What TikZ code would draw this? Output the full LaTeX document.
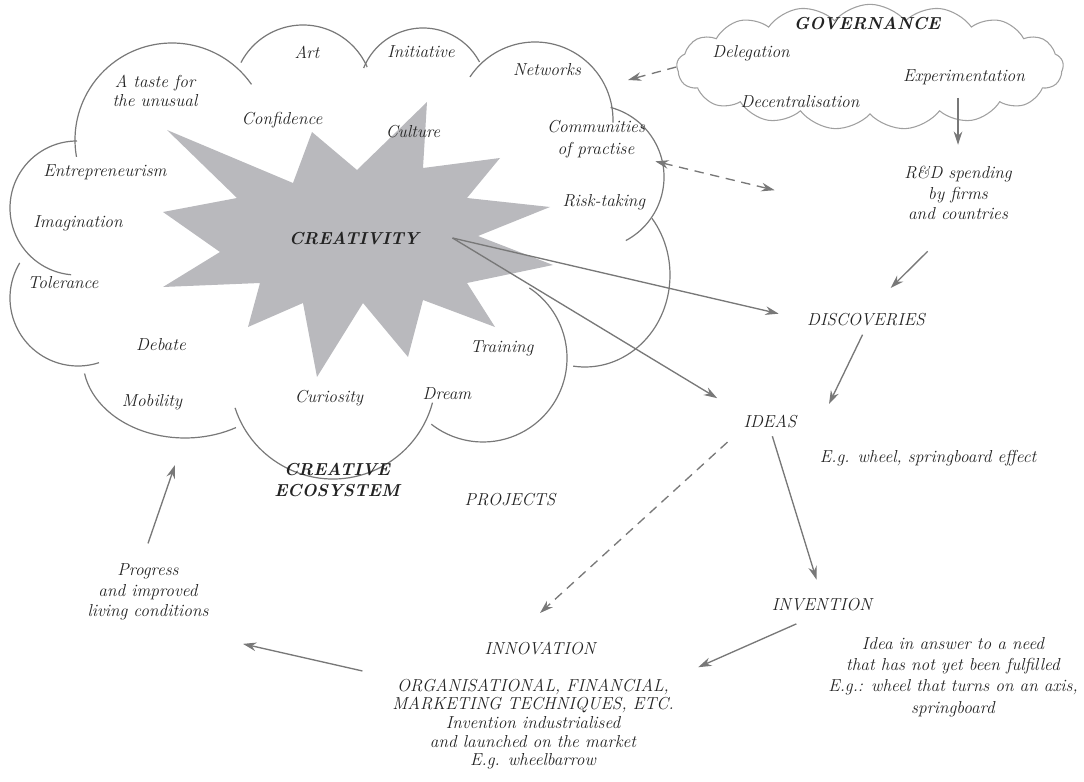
\documentclass[tikz,border=0pt]{standalone}
\usepackage{amsmath,amssymb,amsfonts}
\usetikzlibrary{arrows.meta,shapes.symbols}
\definecolor{lineg}{RGB}{120,120,120}
\definecolor{starg}{RGB}{185,185,189}
\definecolor{txtg}{RGB}{35,35,35}
\definecolor{govg}{RGB}{160,160,160}

\begin{document}
\begin{tikzpicture}[x=0.75pt,y=0.75pt,yscale=-1,xscale=1,
  lbl/.style={inner sep=0.75pt, text=txtg, align=center, font=\fontsize{13}{15.5}\selectfont\itshape},
  blbl/.style={lbl, font=\fontsize{13}{15.5}\selectfont\bfseries\itshape},
  lobe/.style={draw=lineg, line width=0.9pt},
  arr/.style={draw=lineg, line width=1pt, -{Stealth[length=10pt,width=6.5pt]}},
  dasharr/.style={arr, dash pattern=on 7pt off 5pt}]
\useasboundingbox (0,0) rectangle (1084,781);

%Shape: Star [creativity burst]
\fill [starg] (167,130) -- (293,183) -- (312,132) -- (357,170) -- (427,102) -- (423,168) -- (500,158) -- (467,198) -- (550,207) -- (478,236) -- (553,265) -- (467,283) -- (495,327) -- (423,300) -- (408,357) -- (363,303) -- (317,377) -- (303,303) -- (248,327) -- (260,283) -- (163,287) -- (220,252) -- (163,212) -- (237,198) -- cycle ;

%Shape: Arc [ecosystem cloud lobes]
\draw [lobe] (172,140) ++(170:97) arc [start angle=170, end angle=325, radius=97] ;
\draw [lobe] (303,95) ++(207.6:70) arc [start angle=207.6, end angle=336.5, radius=70] ;
\draw [lobe] (423,92) ++(202:64) arc [start angle=202, end angle=332, radius=64] ;
\draw [lobe] (535,120) ++(213.5:78) arc [start angle=213.5, end angle=362, radius=78] ;
\draw [lobe] (592,177) ++(-75:72) arc [start angle=-75, end angle=62, radius=72] ;
\draw [lobe] (585,275) ++(-38:85 and 92) arc [start angle=-38, end angle=98, x radius=85, y radius=92] ;
\draw [lobe] (483,358) ++(-56.5:84) arc [start angle=-56.5, end angle=128, radius=84] ;
\draw [lobe] (333,376) ++(162:103) arc [start angle=162, end angle=15, radius=103] ;
\draw [lobe] (185,360) ++(170:102 and 78) arc [start angle=170, end angle=60, x radius=102, y radius=78] ;
\draw [lobe] (78,298) ++(211:68) arc [start angle=211, end angle=72, radius=68] ;
\draw [lobe] (77,208) ++(270:67) arc [start angle=270, end angle=95, radius=67] ;

%Shape: Cloud [governance]
\node [cloud, cloud puffs=17, cloud puff arc=100, cloud ignores aspect, draw=govg, line width=0.8pt, minimum width=290pt, minimum height=94pt, inner sep=0pt] (gov) at (870,67) {};

% Text Node
\draw (155,91) node [lbl, font=\fontsize{13}{14}\selectfont\itshape] (taste) {A taste for\\the unusual};
% Text Node
\draw (307,52) node [lbl] (art) {Art};
% Text Node
\draw (421,52) node [lbl] (initiative) {Initiative};
% Text Node
\draw (547,70) node [lbl] (networks) {Networks};
% Text Node
\draw (282,120) node [lbl] (confidence) {Confidence};
% Text Node
\draw (413,132) node [lbl] (culture) {Culture};
% Text Node
\draw (596,139) node [lbl, font=\fontsize{13}{16.5}\selectfont\itshape] (communities) {Communities\\of practise};
% Text Node
\draw (105,172) node [lbl] (entre) {Entrepreneurism};
% Text Node
\draw (78,223) node [lbl] (imagination) {Imagination};
% Text Node
\draw (604,202) node [lbl] (risk) {Risk-taking};
% Text Node
\draw (354,238) node [blbl, inner xsep=25pt] (creat) {CREATIVITY};
% Text Node
\draw (63,283) node [lbl] (tolerance) {Tolerance};
% Text Node
\draw (502,348) node [lbl] (training) {Training};
% Text Node
\draw (161,345) node [lbl] (debate) {Debate};
% Text Node
\draw (152,402) node [lbl] (mobility) {Mobility};
% Text Node
\draw (329,398) node [lbl] (curiosity) {Curiosity};
% Text Node
\draw (447,394) node [lbl] (dream) {Dream};
% Text Node
\draw (337,480) node [blbl] (ecosys) {CREATIVE\\ECOSYSTEM};
% Text Node
\draw (510,500) node [lbl] (projects) {PROJECTS};
% Text Node
\draw (867,23) node [blbl] (govtitle) {GOVERNANCE};
% Text Node
\draw (751,53) node [lbl] (delegation) {Delegation};
% Text Node
\draw (964,77) node [lbl] (expt) {Experimentation};
% Text Node
\draw (800,102) node [lbl] (decentral) {Decentralisation};
% Text Node
\draw (958,193) node [lbl] (rd) {R\&D spending\\by firms\\and countries};
% Text Node
\draw (866,320) node [lbl] (disc) {DISCOVERIES};
% Text Node
\draw (770,421) node [lbl] (ideas) {IDEAS};
% Text Node
\draw (928,458) node [lbl] (egwheel) {E.g. wheel, springboard effect};
% Text Node
\draw (822,605) node [lbl] (inv) {INVENTION};
% Text Node
\draw (953,677) node [lbl, font=\fontsize{13}{16}\selectfont\itshape] (invdesc) {Idea in answer to a need\\that has not yet been fulfilled\\E.g.: wheel that turns on an axis,\\springboard};
% Text Node
\draw (540,648) node [lbl] (innov) {INNOVATION};
% Text Node
\draw (533,724) node [lbl, font=\fontsize{13}{14}\selectfont\itshape] (innovdesc) {ORGANISATIONAL, FINANCIAL,\\MARKETING TECHNIQUES, ETC.\\Invention industrialised\\and launched on the market\\E.g. wheelbarrow};
% Text Node
\draw (148,592) node [lbl, inner sep=15pt] (progress) {Progress\\and improved\\living conditions};

% arrow ends
\coordinate (netin) at (628,80);
\coordinate (ideasin) at (829,404);
\coordinate (innovin) at (540,613);
\coordinate (ecoin) at (175,465);

% Connectors
\draw [dasharr] (gov.west) -- (netin);
\draw [dasharr, {Stealth[length=10pt,width=6.5pt]}-{Stealth[length=10pt,width=6.5pt]}, shorten <=7pt, shorten >=99pt] (communities.south east) -- (rd.south west);
\draw [arr, shorten <=9pt, shorten >=15pt] (rd.north |- expt.south) -- (rd.north);
\draw [arr, shorten <=32pt, shorten >=26pt] (rd.south) -- (disc.north);
\draw [arr, shorten >=21pt] (creat.east) -- (disc.west);
\draw [arr, shorten >=22pt] (creat.east) -- (ideas.north west);
\draw [arr, shorten <=6pt] (disc.south) -- (ideasin);
\draw [arr, shorten <=6pt, shorten >=14pt] (ideas.south) -- (inv.north);
\draw [dasharr, shorten <=15pt] (ideas.south west) -- (innovin);
\draw [arr, shorten <=21pt, shorten >=19pt] (inv.south) -- (innovdesc.north east);
\draw [arr, shorten <=22pt, shorten >=11pt] (innovdesc.north west) -- (progress.south east);
\draw [arr] (progress.north) -- (ecoin);

\end{tikzpicture}
\end{document}
